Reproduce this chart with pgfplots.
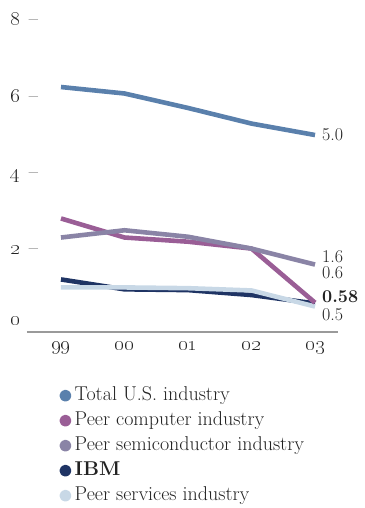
\documentclass[border=0pt]{standalone}
\usepackage{pgfplots}
\pgfplotsset{compat=1.18}

\definecolor{totalus}{HTML}{5A80AC}
\definecolor{peercomp}{HTML}{9A5E96}
\definecolor{peersemi}{HTML}{8A84A6}
\definecolor{ibmblue}{HTML}{1F3464}
\definecolor{peerserv}{HTML}{C8D8E6}
\definecolor{axisgray}{HTML}{9A9A9A}
\definecolor{inktext}{HTML}{222222}

% old-style figures (TS1 digit slots) for years and scale
\newcommand{\osf}[1]{\mbox{\fontencoding{TS1}\selectfont #1}}
\newcommand{\ytl}[1]{\mbox{\osf{#1}\hspace{0.45em}--}}

\begin{document}
\begin{tikzpicture}[font=\fontsize{20}{24}\selectfont, text=inktext]
\useasboundingbox (0,0) rectangle (364pt,508pt);
\begin{axis}[
  at={(27pt,176pt)}, anchor=south west,
  scale only axis, width=311pt, height=322.7pt,
  xmin=-0.535, xmax=4.362, ymin=-0.17, ymax=8.3,
  axis x line=bottom, axis y line=left,
  x axis line style={draw=axisgray, line width=1.3pt, -},
  y axis line style={draw=none},
  major tick length=0pt,
  xtick={0,1,2,3,4},
  xticklabels={\osf{99},\osf{00},\osf{01},\osf{02},\mbox{\bfseries\osf{03}}},
  xticklabel style={anchor=base, inner sep=0pt, yshift=-19pt},
  ytick={0,2,4,6,8},
  yticklabels={\raisebox{5pt}{\osf{0}},\ytl{2},\ytl{4},\ytl{6},\ytl{8}},
  yticklabel style={anchor=base west, inner sep=0pt, xshift=-17pt, yshift=-5.2pt},
  every axis plot/.append style={line width=4.6pt, line join=round, line cap=butt},
  clip=false,
  legend cell align=left,
  legend style={at={(axis description cs:0.104,-0.1673)}, anchor=north west,
    draw=none, fill=none, inner sep=0pt, row sep=6pt,
    nodes={inner sep=0pt, text height=14pt, text depth=5pt}},
  legend image code/.code={%
    \fill (0pt,0pt) circle (3.6pt);
    \path (-3.6pt,0pt) (7pt,0pt);},
]
% plotting order: lighter/secondary series beneath the peer lines
\addplot[totalus, forget plot] coordinates {(0,6.26)(1,6.09)(2,5.71)(3,5.30)(4,5.0)};
\addplot[ibmblue, forget plot] coordinates {(0,1.21)(1,0.95)(2,0.93)(3,0.80)(4,0.58)};
\addplot[peerserv, forget plot] coordinates {(0,1.0)(1,1.0)(2,0.98)(3,0.92)(4,0.5)};
\addplot[peercomp, forget plot] coordinates {(0,2.81)(1,2.31)(2,2.20)(3,2.02)(4,0.6)};
\addplot[peersemi, forget plot] coordinates {(0,2.31)(1,2.50)(2,2.33)(3,2.02)(4,1.6)};

\addlegendimage{totalus}\addlegendentry{Total U.S. industry}
\addlegendimage{peercomp}\addlegendentry{Peer computer industry}
\addlegendimage{peersemi}\addlegendentry{Peer semiconductor industry}
\addlegendimage{ibmblue}\addlegendentry{\textbf{IBM}}
\addlegendimage{peerserv}\addlegendentry{Peer services industry}

% end-of-series values for 2003
\begin{scope}[every node/.style={anchor=west, inner sep=0pt, xshift=7pt, font=\fontsize{18}{20}\selectfont}]
\node at (axis cs:4,5.0) {5.0};
\node at (axis cs:4,1.81) {1.6};
\node at (axis cs:4,1.38) {0.6};
\node at (axis cs:4,0.76) {\textbf{0.58}};
\node at (axis cs:4,0.28) {0.5};
\end{scope}
\end{axis}
\end{tikzpicture}
\end{document}
